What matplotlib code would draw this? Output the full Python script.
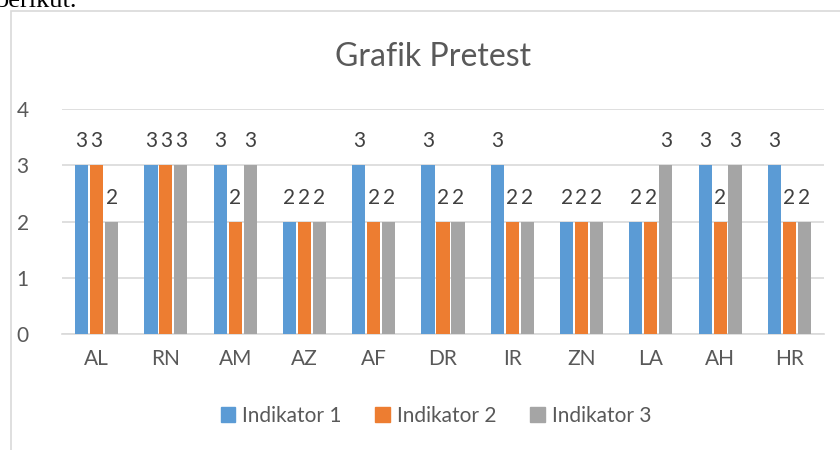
import matplotlib.pyplot as plt
import matplotlib.patches as mpatches
import numpy as np

categories = ['AL', 'RN', 'AM', 'AZ', 'AF', 'DR', 'IR', 'ZN', 'LA', 'AH', 'HR']
indikator1 = [3, 3, 3, 2, 3, 3, 3, 2, 2, 3, 3]
indikator2 = [3, 3, 2, 2, 2, 2, 2, 2, 2, 2, 2]
indikator3 = [2, 3, 3, 2, 2, 2, 2, 2, 3, 3, 2]
series_names = ['Indikator 1', 'Indikator 2', 'Indikator 3']
colors = ['#5B9BD5', '#ED7D31', '#A5A5A5']

plt.rcParams['font.family'] = ['Lato', 'DejaVu Sans']
txt = '#595959'

fig = plt.figure(figsize=(8.4, 4.5), dpi=100)
ax = fig.add_axes([62/840, 1-334/450, (824-62)/840, 225/450])

# outer chart frame (cut off at right/bottom like the screenshot)
frame = mpatches.Rectangle((11/840, -0.05), 1.2, 1-11/450+0.05,
                           transform=fig.transFigure, fill=False,
                           edgecolor='#D9D9D9', linewidth=1.2, clip_on=False)
fig.add_artist(frame)
fig.text(-0.006, 1-7/450, 'berikut.', family='Liberation Serif', fontsize=19,
         color='black', va='baseline', ha='left')

x = np.arange(len(categories))
step = 0.216
width = 0.19
all_series = [indikator1, indikator2, indikator3]
for i, (vals, name, c) in enumerate(zip(all_series, series_names, colors)):
    bars = ax.bar(x + (i-1)*step, vals, width=width, color=c, label=name, zorder=3)
    for b, v in zip(bars, vals):
        ax.annotate(f'{v}', (b.get_x() + b.get_width()/2, v), xytext=(0, 10),
                    textcoords='offset points', ha='center', va='bottom',
                    fontsize=15, color='#404040')

ax.set_xlim(-0.5, len(categories) - 0.5)
ax.set_ylim(0, 4)
ax.set_yticks([0, 1, 2, 3, 4])
ax.set_xticks(x)
ax.set_xticklabels(categories)
ax.tick_params(length=0, labelsize=15, colors=txt)
ax.tick_params(axis='y', pad=24)
ax.tick_params(axis='x', pad=11)
ax.grid(axis='y', color='#D9D9D9', linewidth=1.2, zorder=0)
for s in ['top', 'right', 'left']:
    ax.spines[s].set_visible(False)
ax.spines['bottom'].set_color('#D9D9D9')
ax.spines['bottom'].set_linewidth(1.2)

fig.text(433/840, 1-57/450, 'Grafik Pretest', ha='center', va='center',
         fontsize=23, color=txt)

handles = [mpatches.Patch(color=c) for c in colors]
fig.legend(handles, series_names, loc='center', bbox_to_anchor=(436/840, 1-416/450),
           ncol=3, frameon=False, fontsize=15, labelcolor=txt,
           handlelength=0.7, handleheight=0.7, handletextpad=0.35, columnspacing=1.6)

fig.savefig('out.png', dpi=100)
